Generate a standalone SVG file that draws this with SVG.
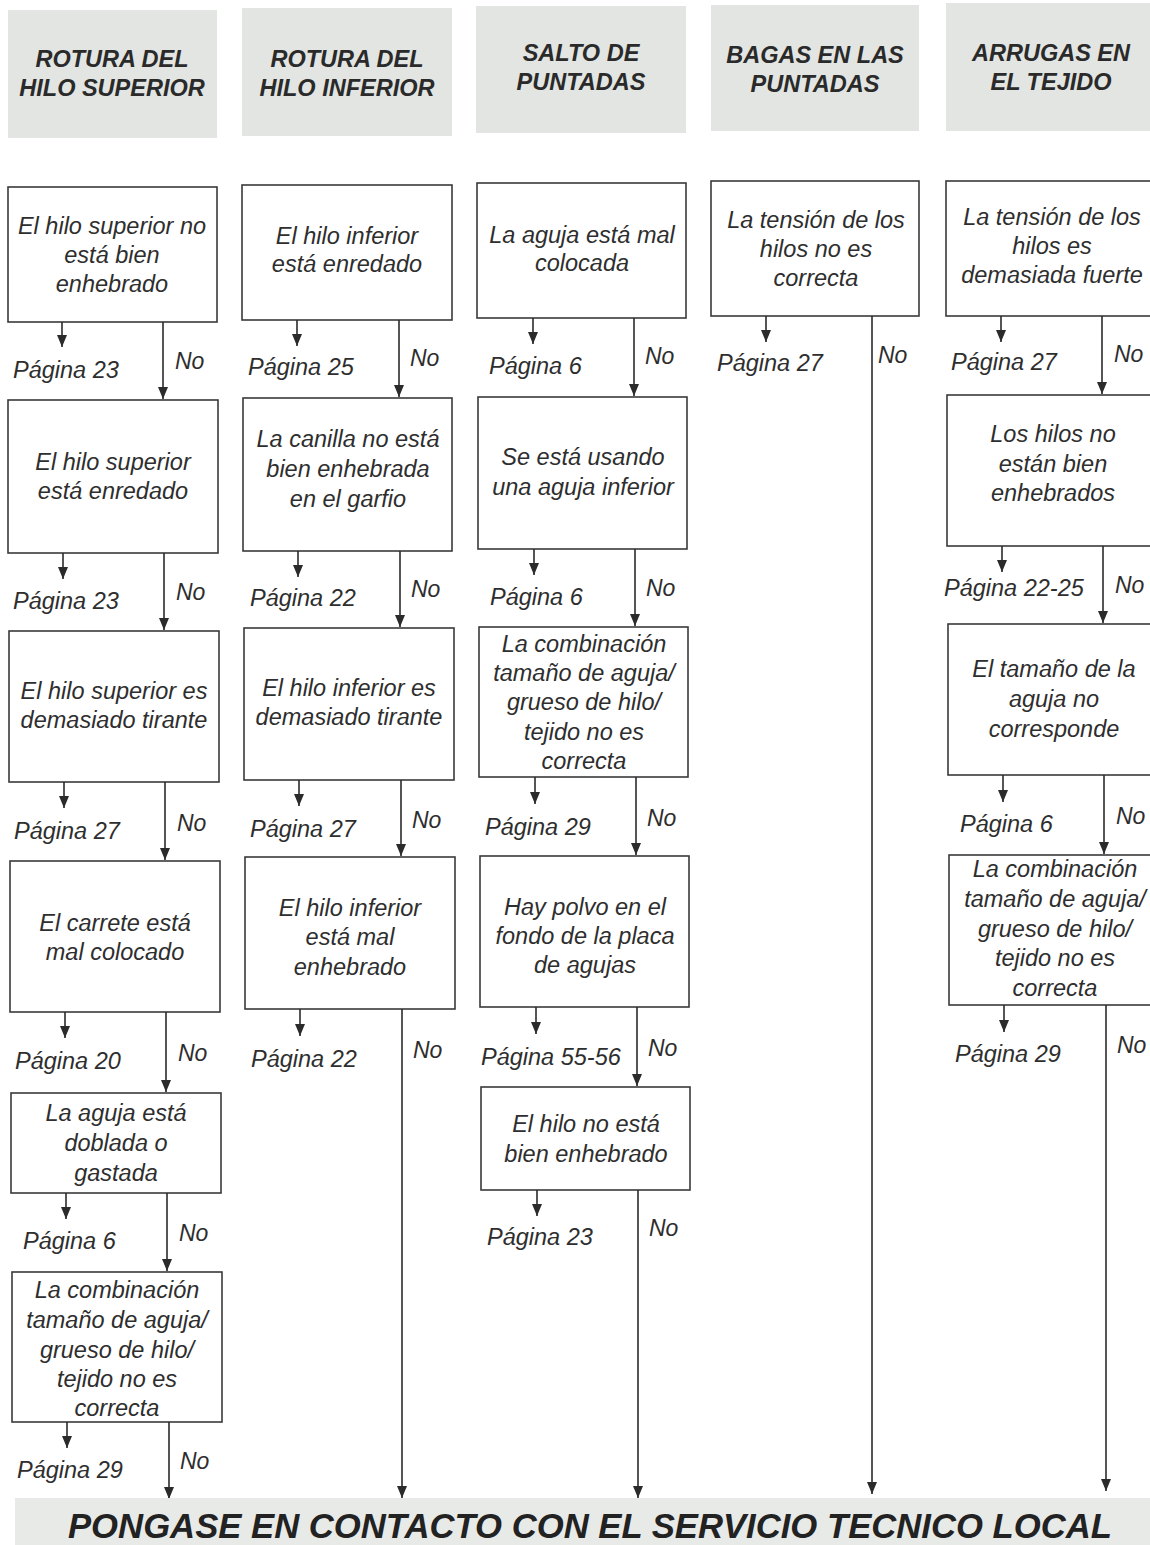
<svg xmlns="http://www.w3.org/2000/svg" width="1150" height="1545" viewBox="0 0 1150 1545">
<defs>
<marker id="ah" viewBox="0 0 12 10" refX="12" refY="5" markerWidth="13" markerHeight="10" markerUnits="userSpaceOnUse" orient="auto">
<path d="M0,0 L12,5 L0,10 z" fill="#2b2b2b"/>
</marker>
<style>
.hdr{fill:#e2e5e2}
.hdrt{font-family:"Liberation Sans",Arial,sans-serif;font-weight:bold;font-style:italic;font-size:23.5px;fill:#2a2a2a;text-anchor:middle}
.box{fill:#ffffff;stroke:#3a3a3a;stroke-width:1.6}
.bt{font-family:"Liberation Sans",Arial,sans-serif;font-style:italic;font-size:23.5px;fill:#2e2e2e;text-anchor:middle}
.pg{font-family:"Liberation Sans",Arial,sans-serif;font-style:italic;font-size:23.5px;fill:#2e2e2e}
.no{font-family:"Liberation Sans",Arial,sans-serif;font-style:italic;font-size:23px;fill:#2e2e2e}
.ln{stroke:#2b2b2b;stroke-width:1.6;fill:none;marker-end:url(#ah)}
.ban{fill:#e8eae8}
.bant{font-family:"Liberation Sans",Arial,sans-serif;font-weight:bold;font-style:italic;font-size:35px;fill:#222}
</style>
</defs>
<rect width="1150" height="1545" fill="#ffffff"/>

<!-- Headers -->
<g id="h1"><rect class="hdr" x="8" y="10" width="209" height="128"/><text class="hdrt" x="112" y="67">ROTURA DEL</text><text class="hdrt" x="112" y="96">HILO SUPERIOR</text></g>
<g id="h2"><rect class="hdr" x="242" y="8" width="210" height="128"/><text class="hdrt" x="347" y="67">ROTURA DEL</text><text class="hdrt" x="347" y="96">HILO INFERIOR</text></g>
<g id="h3"><rect class="hdr" x="476" y="6" width="210" height="127"/><text class="hdrt" x="581" y="61">SALTO DE</text><text class="hdrt" x="581" y="90">PUNTADAS</text></g>
<g id="h4"><rect class="hdr" x="711" y="5" width="208" height="126"/><text class="hdrt" x="815" y="63">BAGAS EN LAS</text><text class="hdrt" x="815" y="92">PUNTADAS</text></g>
<g id="h5"><rect class="hdr" x="946" y="3" width="204" height="128"/><text class="hdrt" x="1051" y="61">ARRUGAS EN</text><text class="hdrt" x="1051" y="90">EL TEJIDO</text></g>

<!-- Column 1 -->
<g id="c1b1"><rect class="box" x="8" y="187" width="209" height="135"/><text class="bt" x="112" y="234">El hilo superior no</text><text class="bt" x="112" y="263">está bien</text><text class="bt" x="112" y="292">enhebrado</text></g>
<g id="c1b2"><rect class="box" x="8" y="400" width="210" height="153"/><text class="bt" x="113" y="470">El hilo superior</text><text class="bt" x="113" y="499">está enredado</text></g>
<g id="c1b3"><rect class="box" x="9" y="631" width="210" height="151"/><text class="bt" x="114" y="699">El hilo superior es</text><text class="bt" x="114" y="728">demasiado tirante</text></g>
<g id="c1b4"><rect class="box" x="10" y="861" width="210" height="151"/><text class="bt" x="115" y="931">El carrete está</text><text class="bt" x="115" y="960">mal colocado</text></g>
<g id="c1b5"><rect class="box" x="11" y="1093" width="210" height="100"/><text class="bt" x="116" y="1121">La aguja está</text><text class="bt" x="116" y="1151">doblada o</text><text class="bt" x="116" y="1181">gastada</text></g>
<g id="c1b6"><rect class="box" x="12" y="1272" width="210" height="150"/><text class="bt" x="117" y="1298">La combinación</text><text class="bt" x="117" y="1328">tamaño de aguja/</text><text class="bt" x="117" y="1358">grueso de hilo/</text><text class="bt" x="117" y="1387">tejido no es</text><text class="bt" x="117" y="1416">correcta</text></g>

<!-- Column 2 -->
<g id="c2b1"><rect class="box" x="242" y="185" width="210" height="135"/><text class="bt" x="347" y="244">El hilo inferior</text><text class="bt" x="347" y="272">está enredado</text></g>
<g id="c2b2"><rect class="box" x="243" y="398" width="209" height="153"/><text class="bt" x="348" y="447">La canilla no está</text><text class="bt" x="348" y="477">bien enhebrada</text><text class="bt" x="348" y="507">en el garfio</text></g>
<g id="c2b3"><rect class="box" x="244" y="628" width="210" height="152"/><text class="bt" x="349" y="696">El hilo inferior es</text><text class="bt" x="349" y="725">demasiado tirante</text></g>
<g id="c2b4"><rect class="box" x="245" y="857" width="210" height="152"/><text class="bt" x="350" y="916">El hilo inferior</text><text class="bt" x="350" y="945">está mal</text><text class="bt" x="350" y="975">enhebrado</text></g>

<!-- Column 3 -->
<g id="c3b1"><rect class="box" x="477" y="183" width="209" height="135"/><text class="bt" x="582" y="243">La aguja está mal</text><text class="bt" x="582" y="271">colocada</text></g>
<g id="c3b2"><rect class="box" x="478" y="397" width="209" height="152"/><text class="bt" x="583" y="465">Se está usando</text><text class="bt" x="583" y="495">una aguja inferior</text></g>
<g id="c3b3"><rect class="box" x="479" y="627" width="209" height="150"/><text class="bt" x="584" y="652">La combinación</text><text class="bt" x="584" y="681">tamaño de aguja/</text><text class="bt" x="584" y="710">grueso de hilo/</text><text class="bt" x="584" y="740">tejido no es</text><text class="bt" x="584" y="769">correcta</text></g>
<g id="c3b4"><rect class="box" x="480" y="856" width="209" height="151"/><text class="bt" x="585" y="915">Hay polvo en el</text><text class="bt" x="585" y="944">fondo de la placa</text><text class="bt" x="585" y="973">de agujas</text></g>
<g id="c3b5"><rect class="box" x="481" y="1087" width="209" height="103"/><text class="bt" x="586" y="1132">El hilo no está</text><text class="bt" x="586" y="1162">bien enhebrado</text></g>

<!-- Column 4 -->
<g id="c4b1"><rect class="box" x="711" y="181" width="208" height="135"/><text class="bt" x="816" y="228">La tensión de los</text><text class="bt" x="816" y="257">hilos no es</text><text class="bt" x="816" y="286">correcta</text></g>

<!-- Column 5 -->
<g id="c5b1"><rect class="box" x="946" y="181" width="210" height="135"/><text class="bt" x="1052" y="225">La tensión de los</text><text class="bt" x="1052" y="254">hilos es</text><text class="bt" x="1052" y="283">demasiada fuerte</text></g>
<g id="c5b2"><rect class="box" x="947" y="395" width="210" height="151"/><text class="bt" x="1053" y="442">Los hilos no</text><text class="bt" x="1053" y="472">están bien</text><text class="bt" x="1053" y="501">enhebrados</text></g>
<g id="c5b3"><rect class="box" x="948" y="624" width="210" height="151"/><text class="bt" x="1054" y="677">El tamaño de la</text><text class="bt" x="1054" y="707">aguja no</text><text class="bt" x="1054" y="737">corresponde</text></g>
<g id="c5b4"><rect class="box" x="949" y="855" width="210" height="150"/><text class="bt" x="1055" y="877">La combinación</text><text class="bt" x="1055" y="907">tamaño de aguja/</text><text class="bt" x="1055" y="937">grueso de hilo/</text><text class="bt" x="1055" y="966">tejido no es</text><text class="bt" x="1055" y="996">correcta</text></g>

<!-- Connectors -->
<g id="connectors">
<line class="ln" x1="62" y1="322" x2="62" y2="347"/>
<line class="ln" x1="163" y1="322" x2="163" y2="399"/>
<line class="ln" x1="63" y1="553" x2="63" y2="579"/>
<line class="ln" x1="164" y1="553" x2="164" y2="630"/>
<line class="ln" x1="64" y1="782" x2="64" y2="808"/>
<line class="ln" x1="165" y1="782" x2="165" y2="860"/>
<line class="ln" x1="65" y1="1012" x2="65" y2="1038"/>
<line class="ln" x1="166" y1="1012" x2="166" y2="1092"/>
<line class="ln" x1="66" y1="1193" x2="66" y2="1219"/>
<line class="ln" x1="167" y1="1193" x2="167" y2="1271"/>
<line class="ln" x1="67" y1="1422" x2="67" y2="1448"/>
<line class="ln" x1="169" y1="1422" x2="169" y2="1499"/>

<line class="ln" x1="297" y1="320" x2="297" y2="346"/>
<line class="ln" x1="399" y1="320" x2="399" y2="397"/>
<line class="ln" x1="298" y1="551" x2="298" y2="577"/>
<line class="ln" x1="400" y1="551" x2="400" y2="627"/>
<line class="ln" x1="299" y1="780" x2="299" y2="806"/>
<line class="ln" x1="401" y1="780" x2="401" y2="856"/>
<line class="ln" x1="300" y1="1009" x2="300" y2="1036"/>
<line class="ln" x1="402" y1="1009" x2="402" y2="1498"/>

<line class="ln" x1="533" y1="318" x2="533" y2="344"/>
<line class="ln" x1="634" y1="318" x2="634" y2="396"/>
<line class="ln" x1="534" y1="549" x2="534" y2="575"/>
<line class="ln" x1="635" y1="549" x2="635" y2="626"/>
<line class="ln" x1="535" y1="777" x2="535" y2="804"/>
<line class="ln" x1="636" y1="777" x2="636" y2="855"/>
<line class="ln" x1="536" y1="1007" x2="536" y2="1034"/>
<line class="ln" x1="637" y1="1007" x2="637" y2="1086"/>
<line class="ln" x1="537" y1="1190" x2="537" y2="1216"/>
<line class="ln" x1="638" y1="1190" x2="638" y2="1498"/>

<line class="ln" x1="766" y1="316" x2="766" y2="342"/>
<line class="ln" x1="872" y1="316" x2="872" y2="1494"/>

<line class="ln" x1="1001" y1="316" x2="1001" y2="342"/>
<line class="ln" x1="1102" y1="316" x2="1102" y2="394"/>
<line class="ln" x1="1002" y1="546" x2="1002" y2="572"/>
<line class="ln" x1="1103" y1="546" x2="1103" y2="623"/>
<line class="ln" x1="1003" y1="775" x2="1003" y2="802"/>
<line class="ln" x1="1104" y1="775" x2="1104" y2="854"/>
<line class="ln" x1="1004" y1="1005" x2="1004" y2="1032"/>
<line class="ln" x1="1106" y1="1005" x2="1106" y2="1491"/>
</g>

<!-- Page and No labels -->
<g id="labels">
<text class="pg" x="13" y="378">Página 23</text><text class="no" x="175" y="369">No</text>
<text class="pg" x="13" y="609">Página 23</text><text class="no" x="176" y="600">No</text>
<text class="pg" x="14" y="839">Página 27</text><text class="no" x="177" y="831">No</text>
<text class="pg" x="15" y="1069">Página 20</text><text class="no" x="178" y="1061">No</text>
<text class="pg" x="23" y="1249">Página 6</text><text class="no" x="179" y="1241">No</text>
<text class="pg" x="17" y="1478">Página 29</text><text class="no" x="180" y="1469">No</text>

<text class="pg" x="248" y="375">Página 25</text><text class="no" x="410" y="366">No</text>
<text class="pg" x="250" y="606">Página 22</text><text class="no" x="411" y="597">No</text>
<text class="pg" x="250" y="837">Página 27</text><text class="no" x="412" y="828">No</text>
<text class="pg" x="251" y="1067">Página 22</text><text class="no" x="413" y="1058">No</text>

<text class="pg" x="489" y="374">Página 6</text><text class="no" x="645" y="364">No</text>
<text class="pg" x="490" y="605">Página 6</text><text class="no" x="646" y="596">No</text>
<text class="pg" x="485" y="835">Página 29</text><text class="no" x="647" y="826">No</text>
<text class="pg" x="481" y="1065">Página 55-56</text><text class="no" x="648" y="1056">No</text>
<text class="pg" x="487" y="1245">Página 23</text><text class="no" x="649" y="1236">No</text>

<text class="pg" x="717" y="371">Página 27</text><text class="no" x="878" y="363">No</text>

<text class="pg" x="951" y="370">Página 27</text><text class="no" x="1114" y="362">No</text>
<text class="pg" x="944" y="596">Página 22-25</text><text class="no" x="1115" y="593">No</text>
<text class="pg" x="960" y="832">Página 6</text><text class="no" x="1116" y="824">No</text>
<text class="pg" x="955" y="1062">Página 29</text><text class="no" x="1117" y="1053">No</text>
</g>

<!-- Bottom banner -->
<g id="banner"><rect class="ban" x="15" y="1498" width="1135" height="47"/><text class="bant" x="68" y="1538" textLength="1044" lengthAdjust="spacingAndGlyphs">PONGASE EN CONTACTO CON EL SERVICIO TECNICO LOCAL</text></g>
</svg>
